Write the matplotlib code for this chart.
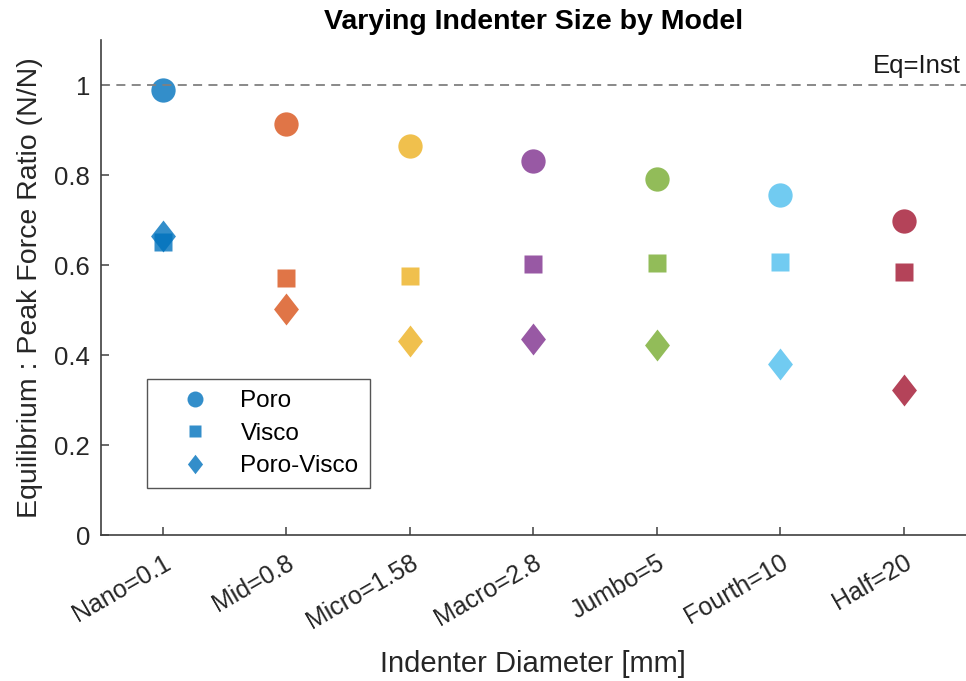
import matplotlib
matplotlib.use("Agg")
import matplotlib.pyplot as plt
from matplotlib.lines import Line2D

plt.rcParams['font.family'] = ['Liberation Sans', 'DejaVu Sans']

# indenter sizes and ratios per model
sizes = ['Nano=0.1', 'Mid=0.8', 'Micro=1.58', 'Macro=2.8', 'Jumbo=5', 'Fourth=10', 'Half=20']
poro = [0.989, 0.913, 0.865, 0.832, 0.792, 0.757, 0.699]
visco = [0.652, 0.571, 0.576, 0.603, 0.604, 0.607, 0.585]
poro_visco = [0.665, 0.502, 0.431, 0.436, 0.422, 0.381, 0.322]

# matlab default line colours
colors = [(0, 0.447, 0.741), (0.85, 0.325, 0.098), (0.929, 0.694, 0.125),
          (0.494, 0.184, 0.556), (0.466, 0.674, 0.188), (0.301, 0.745, 0.933),
          (0.635, 0.078, 0.184)]

# matlab style diamond, a bit wider than mpl's 'd'
diamond = [(0, 1), (0.78, 0), (0, -1), (-0.78, 0), (0, 1)]

fig = plt.figure(figsize=(9.66, 6.81), dpi=100)
ax = fig.add_axes([0.1046, 0.214, 0.895, 0.727])

xs = range(1, len(sizes) + 1)
for i, x in enumerate(xs):
    c = colors[i]
    ax.plot(x, poro[i], 'o', ms=17.5, color=c, mec='none', alpha=0.8)
    ax.plot(x, visco[i], 's', ms=12.5, color=c, mec='none', alpha=0.8)
    ax.plot(x, poro_visco[i], marker=diamond, ls='none', ms=23, color=c, mec='none', alpha=0.8)

ax.axhline(1, color='#808080', ls=(0, (5, 3.5)), lw=1.3)
ax.text(7.46, 1.015, 'Eq=Inst', ha='right', va='bottom', fontsize=18.5, color='#1a1a1a')

ax.set_xlim(0.5, 7.5)
ax.set_ylim(0, 1.1)
ax.set_xticks(list(xs))
ax.set_xticklabels(sizes, rotation=30, ha='right', rotation_mode='anchor', fontsize=18, color='#262626')
ax.set_yticks([0, 0.2, 0.4, 0.6, 0.8, 1])
ax.set_yticklabels(['0', '0.2', '0.4', '0.6', '0.8', '1'], fontsize=18.5, color='#262626')

for side in ['top', 'right']:
    ax.spines[side].set_visible(False)
for side in ['left', 'bottom']:
    ax.spines[side].set_color('#404040')
    ax.spines[side].set_linewidth(1.2)
ax.tick_params(direction='in', length=6, width=1.1, color='#404040', pad=8)
ax.tick_params(axis='x', pad=11)

ax.set_title('Varying Indenter Size by Model', fontsize=20.5, fontweight='bold', pad=8)
ax.set_xlabel('Indenter Diameter [mm]', fontsize=21, color='#262626', labelpad=12)
ax.set_ylabel('Equilibrium : Peak Force Ratio (N/N)', fontsize=20.5, color='#262626', labelpad=8)

blue = colors[0]
handles = [
    Line2D([], [], marker='o', ls='none', ms=11.5, color=blue, mec='none', alpha=0.8, label='Poro'),
    Line2D([], [], marker='s', ls='none', ms=8.5, color=blue, mec='none', alpha=0.8, label='Visco'),
    Line2D([], [], marker=diamond, ls='none', ms=14, color=blue, mec='none', alpha=0.8, label='Poro-Visco'),
]
leg = ax.legend(handles=handles, loc='lower left', bbox_to_anchor=(0.053, 0.095), fontsize=17.5,
                fancybox=False, edgecolor='#555555', framealpha=1, handletextpad=0.3,
                borderpad=0.45, borderaxespad=0, labelspacing=0.43, handlelength=3.1)
leg.get_frame().set_linewidth(1.0)

fig.savefig('out.png', dpi=100)
